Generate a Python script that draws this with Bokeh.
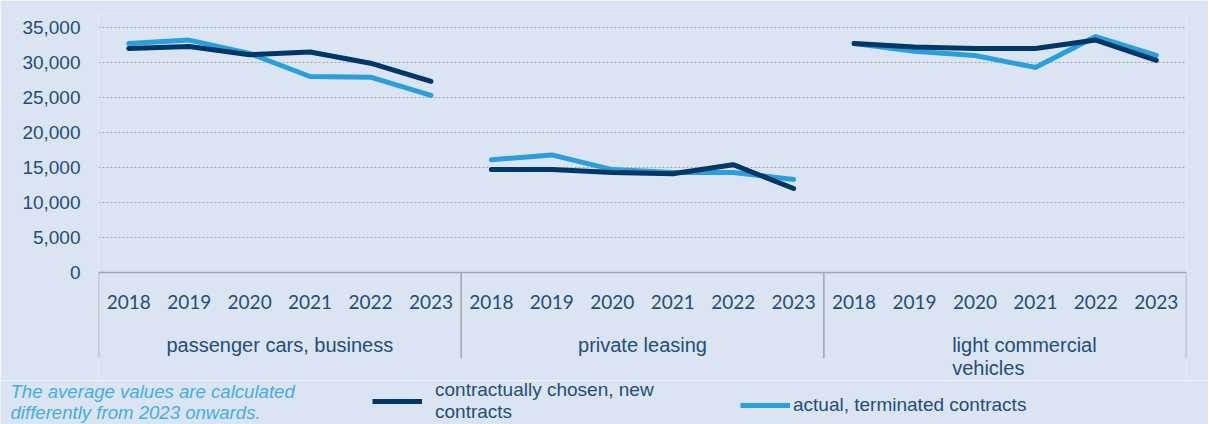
from bokeh.plotting import figure
from bokeh.layouts import column, row
from bokeh.models import Range1d, FixedTicker, Legend, LegendItem, ColumnDataSource, NumeralTickFormatter
from bokeh.core.properties import value
from bokeh.embed import file_html
from bokeh.resources import INLINE

# ---- data ----
groups = ["passenger cars, business", "private leasing", "light commercial\nvehicles"]
years = ["2018", "2019", "2020", "2021", "2022", "2023"]
new_passenger = [32000, 32300, 31100, 31500, 29900, 27300]
new_private = [14700, 14700, 14300, 14100, 15400, 12000]
new_lcv = [32700, 32200, 32000, 32000, 33200, 30300]
term_passenger = [32700, 33200, 31300, 28000, 27900, 25300]
term_private = [16100, 16800, 14700, 14300, 14300, 13300]
term_lcv = [32700, 31600, 31000, 29300, 33700, 31000]
series_new = [new_passenger, new_private, new_lcv]
series_term = [term_passenger, term_private, term_lcv]
y_ticks = [0, 5000, 10000, 15000, 20000, 25000, 30000, 35000]
label_new = "contractually chosen, new\ncontracts"
label_term = "actual, terminated contracts"
note = "The average values are calculated\ndifferently from 2023 onwards."

BG = "#dbe4f3"
TXT = "#1f4e79"
DARK = "#003767"
LIGHT = "#2b9fdb"
AXC = "#a6a6a6"
W = 1208

n = len(years)
ng = len(groups)

p = figure(width=W, height=380, x_range=Range1d(0, n * ng), y_range=Range1d(-15429, 37000),
           output_backend="svg", toolbar_location=None, x_axis_type=None,
           min_border_left=98, min_border_right=W - 1186, min_border_top=13, min_border_bottom=0)
p.background_fill_color = BG
p.border_fill_color = BG
p.outline_line_color = None

# y axis
p.yaxis.ticker = FixedTicker(ticks=y_ticks)
p.yaxis.formatter = NumeralTickFormatter(format="0,0")
p.yaxis.axis_line_color = None
p.yaxis.major_tick_line_color = None
p.yaxis.minor_tick_line_color = None
p.yaxis.major_tick_out = 0
p.yaxis.major_tick_in = 0
p.yaxis.major_label_standoff = 18
p.yaxis.major_label_text_font = "Liberation Sans"
p.yaxis.major_label_text_font_size = "19px"
p.yaxis.major_label_text_color = TXT

p.xgrid.visible = False
p.ygrid.ticker = FixedTicker(ticks=[t for t in y_ticks if t > 0])
p.ygrid.grid_line_color = AXC
p.ygrid.grid_line_dash = "2 2"
p.ygrid.grid_line_width = 1

# category box (axis line + separators)
p.segment(x0=[0], y0=[0], x1=[n * ng], y1=[0], line_color=AXC, line_width=1.5)
sep_x = [g * n for g in range(ng + 1)]
p.segment(x0=sep_x, y0=[0] * len(sep_x), x1=sep_x, y1=[-12300] * len(sep_x), line_color=AXC, line_width=1.5)

# lines
for gi in range(ng):
    xs = [gi * n + i + 0.5 for i in range(n)]
    p.line(xs, series_term[gi], line_color=LIGHT, line_width=5, line_join="round", line_cap="round")
    p.line(xs, series_new[gi], line_color=DARK, line_width=5, line_join="round", line_cap="round")

# year labels
yx, yt = [], []
for gi in range(ng):
    for i, yr in enumerate(years):
        yx.append(gi * n + i + 0.5)
        yt.append(yr)
p.text(x=yx, y=[-4150] * len(yx), text=yt, text_align="center", text_baseline="middle",
       text_font=value("Lato"), text_font_size="19px", text_color=TXT)

# group labels
gsrc = ColumnDataSource(dict(
    x=[gi * n + n / 2 for gi in range(ng)],
    y=[-8800] * ng,
    text=groups,
    align=["center", "center", "left"],
    xoff=[0, 0, -53],
))
p.text(x="x", y="y", text="text", source=gsrc, text_align="align", x_offset="xoff", text_baseline="top",
       text_font=value("Liberation Sans"), text_font_size="20px", text_color=TXT, text_line_height=1.05)

# ---- bottom strip: note + legend ----
H2 = 44
q = figure(width=W, height=H2, x_range=Range1d(0, W), y_range=Range1d(0, H2),
           output_backend="svg", toolbar_location=None, x_axis_type=None, y_axis_type=None,
           min_border_left=0, min_border_right=0, min_border_top=0, min_border_bottom=0)
q.background_fill_color = BG
q.border_fill_color = BG
q.outline_line_color = None
q.grid.visible = False

q.text(x=[10], y=[43.5], text=[note], text_align="left", text_baseline="top",
       text_font=value("Liberation Sans"), text_font_style="italic", text_font_size="18.6px",
       text_color="#44aee4", text_line_height=1.0)

rn = q.line(x=[-100, -90], y=[-100, -100], line_color=DARK, line_width=5)
rt = q.line(x=[-100, -90], y=[-100, -100], line_color=LIGHT, line_width=5)

common = dict(orientation="horizontal", padding=0, margin=0, border_line_color=None,
              background_fill_alpha=0, glyph_width=50, glyph_height=20,
              label_text_font="Liberation Sans", label_text_font_size="19px",
              label_text_color=TXT, label_text_line_height=0.93)
leg1 = Legend(items=[LegendItem(label=label_new, renderers=[rn])], location=(372, 1),
              label_standoff=13, **common)
leg2 = Legend(items=[LegendItem(label=label_term, renderers=[rt])], location=(740, 8),
              label_standoff=3, **common)
q.add_layout(leg1)
q.add_layout(leg2)

layout = column(p, row(q), spacing=0)
open("out.html", "w").write(file_html(layout, INLINE))
